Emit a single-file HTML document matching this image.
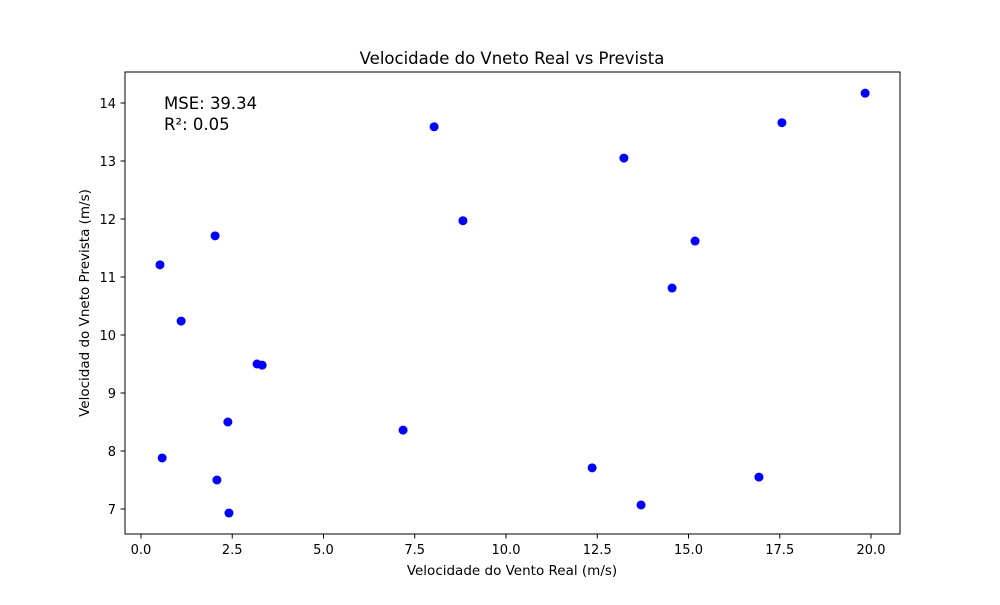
<!DOCTYPE html>
<html><head><meta charset="utf-8"><style>
body{margin:0;background:#fff}
svg{font-family:"DejaVu Sans","Liberation Sans",sans-serif}
</style></head><body>
<svg id="chart" width="1000" height="600">
<rect width="1000" height="600" fill="#fff"/>
<text x="512" y="64" text-anchor="middle" font-size="16.5">Velocidade do Vneto Real vs Prevista</text>
<g id="xt"></g><g id="yt"></g><g id="pts"></g>
<rect x="125" y="72" width="775" height="462" fill="none" stroke="#000" stroke-width="1"/>
<text x="512" y="575" text-anchor="middle" font-size="13.5">Velocidade do Vento Real (m/s)</text>
<text transform="translate(89,303) rotate(-90)" text-anchor="middle" font-size="13.5">Velocidad do Vneto Prevista (m/s)</text>
<text x="164" y="109" font-size="16.5">MSE: 39.34</text>
<text x="164" y="130" font-size="16.5">R²: 0.05</text>
</svg>
<script>
const realValues=[19.84,17.56,8.03,13.23,8.82,2.03,15.18,0.52,14.55,1.10,3.18,3.32,2.38,7.18,0.58,12.36,2.08,16.93,13.70,2.41];
const predictedValues=[14.17,13.66,13.59,13.05,11.97,11.71,11.62,11.21,10.81,10.24,9.50,9.48,8.50,8.36,7.88,7.71,7.50,7.55,7.07,6.93];
const xTicks=[0,2.5,5,7.5,10,12.5,15,17.5,20];
const yTicks=[7,8,9,10,11,12,13,14];
const NS="http://www.w3.org/2000/svg";
const xs=v=>141+v*36.5;
const ys=v=>509-(v-7)*58;
function mk(t,a,p){const e=document.createElementNS(NS,t);for(const k in a)e.setAttribute(k,a[k]);p.appendChild(e);return e;}
const xt=document.getElementById('xt'),yt=document.getElementById('yt'),pts=document.getElementById('pts');
xTicks.forEach(v=>{
 const l=mk('line',{x1:xs(v),x2:xs(v),y1:534,y2:538.5,stroke:'#000'},xt);
 
 
 const t=mk('text',{x:xs(v),y:554,'text-anchor':'middle','font-size':13},xt);
 t.textContent=v.toFixed(1);
 
 
});
yTicks.forEach(v=>{
 const l=mk('line',{x1:120.5,x2:125,y1:ys(v),y2:ys(v),stroke:'#000'},yt);
 
 
 const t=mk('text',{x:116,y:ys(v)+5,'text-anchor':'end','font-size':13},yt);
 t.textContent=v;
 
 
});
realValues.forEach((v,i)=>{
 const c=mk('circle',{cx:xs(v),cy:ys(predictedValues[i]),r:4.5,fill:'#0000ff'},pts);
 
 
});
</script>
</body></html>
